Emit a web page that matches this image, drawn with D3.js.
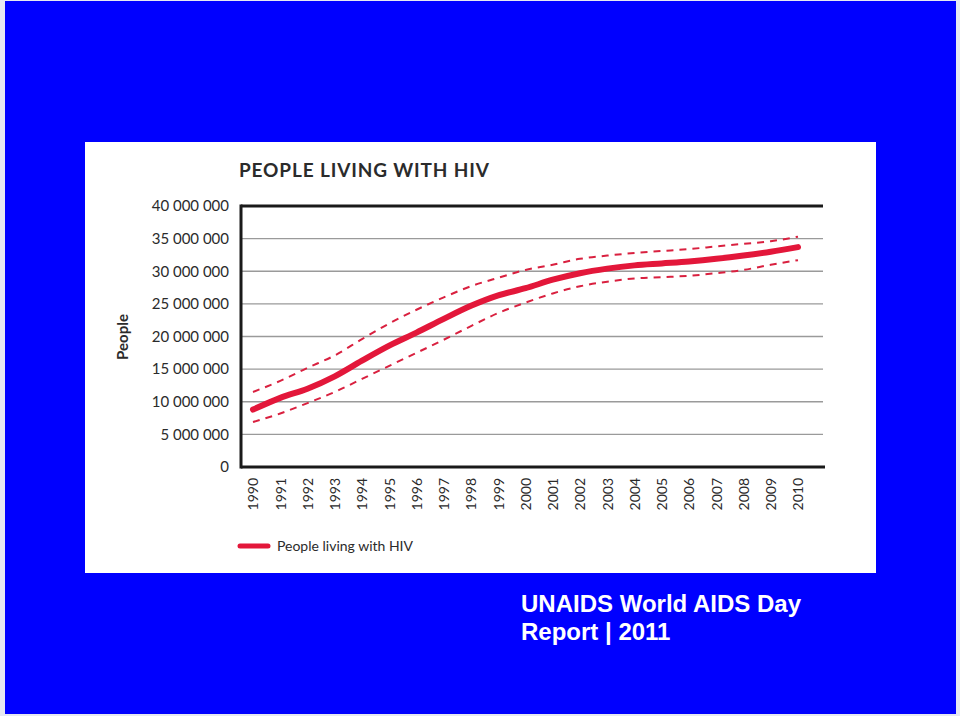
<!DOCTYPE html>
<html>
<head>
<meta charset="utf-8">
<script src="https://cdn.jsdelivr.net/npm/d3@7"></script>
<style>
    body { margin: 0; background: #e6e8f2; }
    svg { display: block; }
</style>
</head>
<body>
<svg id="chart"></svg>
<script>
// data (millions of people)
var years = [1990, 1991, 1992, 1993, 1994, 1995, 1996, 1997, 1998, 1999, 2000,
    2001, 2002, 2003, 2004, 2005, 2006, 2007, 2008, 2009, 2010];
var estimate = [8.8, 10.6, 12.0, 13.9, 16.3, 18.6, 20.6, 22.7, 24.7, 26.3, 27.4,
    28.7, 29.7, 30.4, 30.9, 31.2, 31.5, 31.9, 32.4, 33.0, 33.7];
var upperBound = [11.5, 13.2, 15.2, 17.1, 19.6, 22.0, 24.1, 26.0, 27.7, 29.0, 30.2,
    31.0, 31.9, 32.4, 32.8, 33.1, 33.4, 33.8, 34.2, 34.6, 35.3];
var lowerBound = [6.9, 8.2, 9.8, 11.5, 13.5, 15.5, 17.5, 19.5, 21.6, 23.6, 25.2,
    26.6, 27.7, 28.4, 28.9, 29.1, 29.3, 29.7, 30.2, 31.0, 31.7];
var yTicks = [0, 5, 10, 15, 20, 25, 30, 35, 40];

var width = 960, height = 716;
var svg = d3.select("#chart").attr("width", width).attr("height", height);

// blue slide background and white chart panel
svg.append("rect").attr("x", 5).attr("y", 1).attr("width", 951).attr("height", 713).style("fill", "#0000ff");
svg.append("rect").attr("x", 85).attr("y", 142).attr("width", 791).attr("height", 431).style("fill", "#ffffff");

var plot = {left: 241, right: 823, top: 206, bottom: 467};

var xScale = d3.scaleLinear().domain([1990, 2010]).range([253, 798]);
var yScale = d3.scaleLinear().domain([0, 40]).range([plot.bottom, plot.top]);

// gridlines
svg.append("g")
    .selectAll("line")
    .data(yTicks.filter(function (d) { return d > 0 && d < 40; }))
    .enter()
    .append("line")
    .attr("x1", plot.left)
    .attr("x2", plot.right)
    .attr("y1", function (d) { return yScale(d); })
    .attr("y2", function (d) { return yScale(d); })
    .style("stroke", "#9a9a9a")
    .style("stroke-width", 1.3);

// frame: top, left, bottom
svg.append("line").attr("x1", plot.left).attr("x2", plot.right).attr("y1", plot.top).attr("y2", plot.top)
    .style("stroke", "#1a1a1a").style("stroke-width", 3);
svg.append("line").attr("x1", plot.left).attr("x2", plot.left).attr("y1", plot.top - 1.5).attr("y2", plot.bottom + 1.5)
    .style("stroke", "#1a1a1a").style("stroke-width", 3);
svg.append("line").attr("x1", plot.left).attr("x2", plot.right + 2).attr("y1", plot.bottom).attr("y2", plot.bottom)
    .style("stroke", "#1a1a1a").style("stroke-width", 3);

// y axis
var yAxis = d3.axisLeft(yScale)
    .tickValues(yTicks)
    .tickSize(0)
    .tickPadding(0)
    .tickFormat(function (d) {
        return d3.format(",")(d * 1000000).replace(/,/g, " ");
    });
var yAxisG = svg.append("g")
    .attr("transform", "translate(" + 229 + "," + 0 + ")")
    .call(yAxis);
yAxisG.select(".domain").remove();
yAxisG.selectAll("text")
    .style("font-family", "Lato, 'Open Sans', sans-serif")
    .style("font-size", "15px")
    .style("fill", "#2b2b2b");

// x axis, rotated year labels
var xAxis = d3.axisBottom(xScale)
    .tickValues(years)
    .tickSize(0)
    .tickFormat(d3.format("d"));
var xAxisG = svg.append("g")
    .attr("transform", "translate(" + 0 + "," + 478 + ")")
    .call(xAxis);
xAxisG.select(".domain").remove();
xAxisG.selectAll("text")
    .attr("transform", "rotate(-90)")
    .attr("x", 0)
    .attr("y", 0)
    .attr("dy", "0.35em")
    .style("text-anchor", "end")
    .style("font-family", "Lato, 'Open Sans', sans-serif")
    .style("font-size", "14px")
    .style("fill", "#2b2b2b");

// lines
var line = function (values) {
    return d3.line()
        .x(function (d, i) { return xScale(years[i]); })
        .y(function (d) { return yScale(d); })
        .curve(d3.curveMonotoneX)(values);
};

[upperBound, lowerBound].forEach(function (values) {
    svg.append("path")
        .attr("d", line(values))
        .style("fill", "none")
        .style("stroke", "#d9203f")
        .style("stroke-width", 2)
        .style("stroke-dasharray", "7,6");
});

svg.append("path")
    .attr("d", line(estimate))
    .style("fill", "none")
    .style("stroke", "#e3173a")
    .style("stroke-width", 6)
    .style("stroke-linecap", "round")
    .style("stroke-linejoin", "round");

// title
svg.append("text")
    .attr("x", 239)
    .attr("y", 177)
    .attr("textLength", 250)
    .style("font-family", "Lato, 'Open Sans', sans-serif")
    .style("font-weight", "bold")
    .style("font-size", "19px")
    .style("fill", "#2b2b2b")
    .text("PEOPLE LIVING WITH HIV");

// y label
svg.append("text")
    .attr("transform", "translate(" + 128 + "," + 337 + ") rotate(-90)")
    .style("text-anchor", "middle")
    .style("font-family", "Lato, 'Open Sans', sans-serif")
    .style("font-weight", "bold")
    .style("font-size", "15px")
    .style("fill", "#2b2b2b")
    .text("People");

// legend
svg.append("line")
    .attr("x1", 240).attr("x2", 268).attr("y1", 546).attr("y2", 546)
    .style("stroke", "#e3173a")
    .style("stroke-width", 5)
    .style("stroke-linecap", "round");
svg.append("text")
    .attr("x", 277)
    .attr("y", 551)
    .style("font-family", "Lato, 'Open Sans', sans-serif")
    .style("font-size", "14px")
    .style("fill", "#2b2b2b")
    .text("People living with HIV");

// slide caption
var caption = svg.append("text")
    .attr("x", 521)
    .style("font-family", "'Liberation Sans', Arial, sans-serif")
    .style("font-weight", "bold")
    .style("font-size", "24px")
    .style("fill", "#ffffff");
caption.append("tspan").attr("x", 521).attr("y", 612).text("UNAIDS World AIDS Day");
caption.append("tspan").attr("x", 521).attr("y", 640).text("Report | 2011");
</script>
</body>
</html>
